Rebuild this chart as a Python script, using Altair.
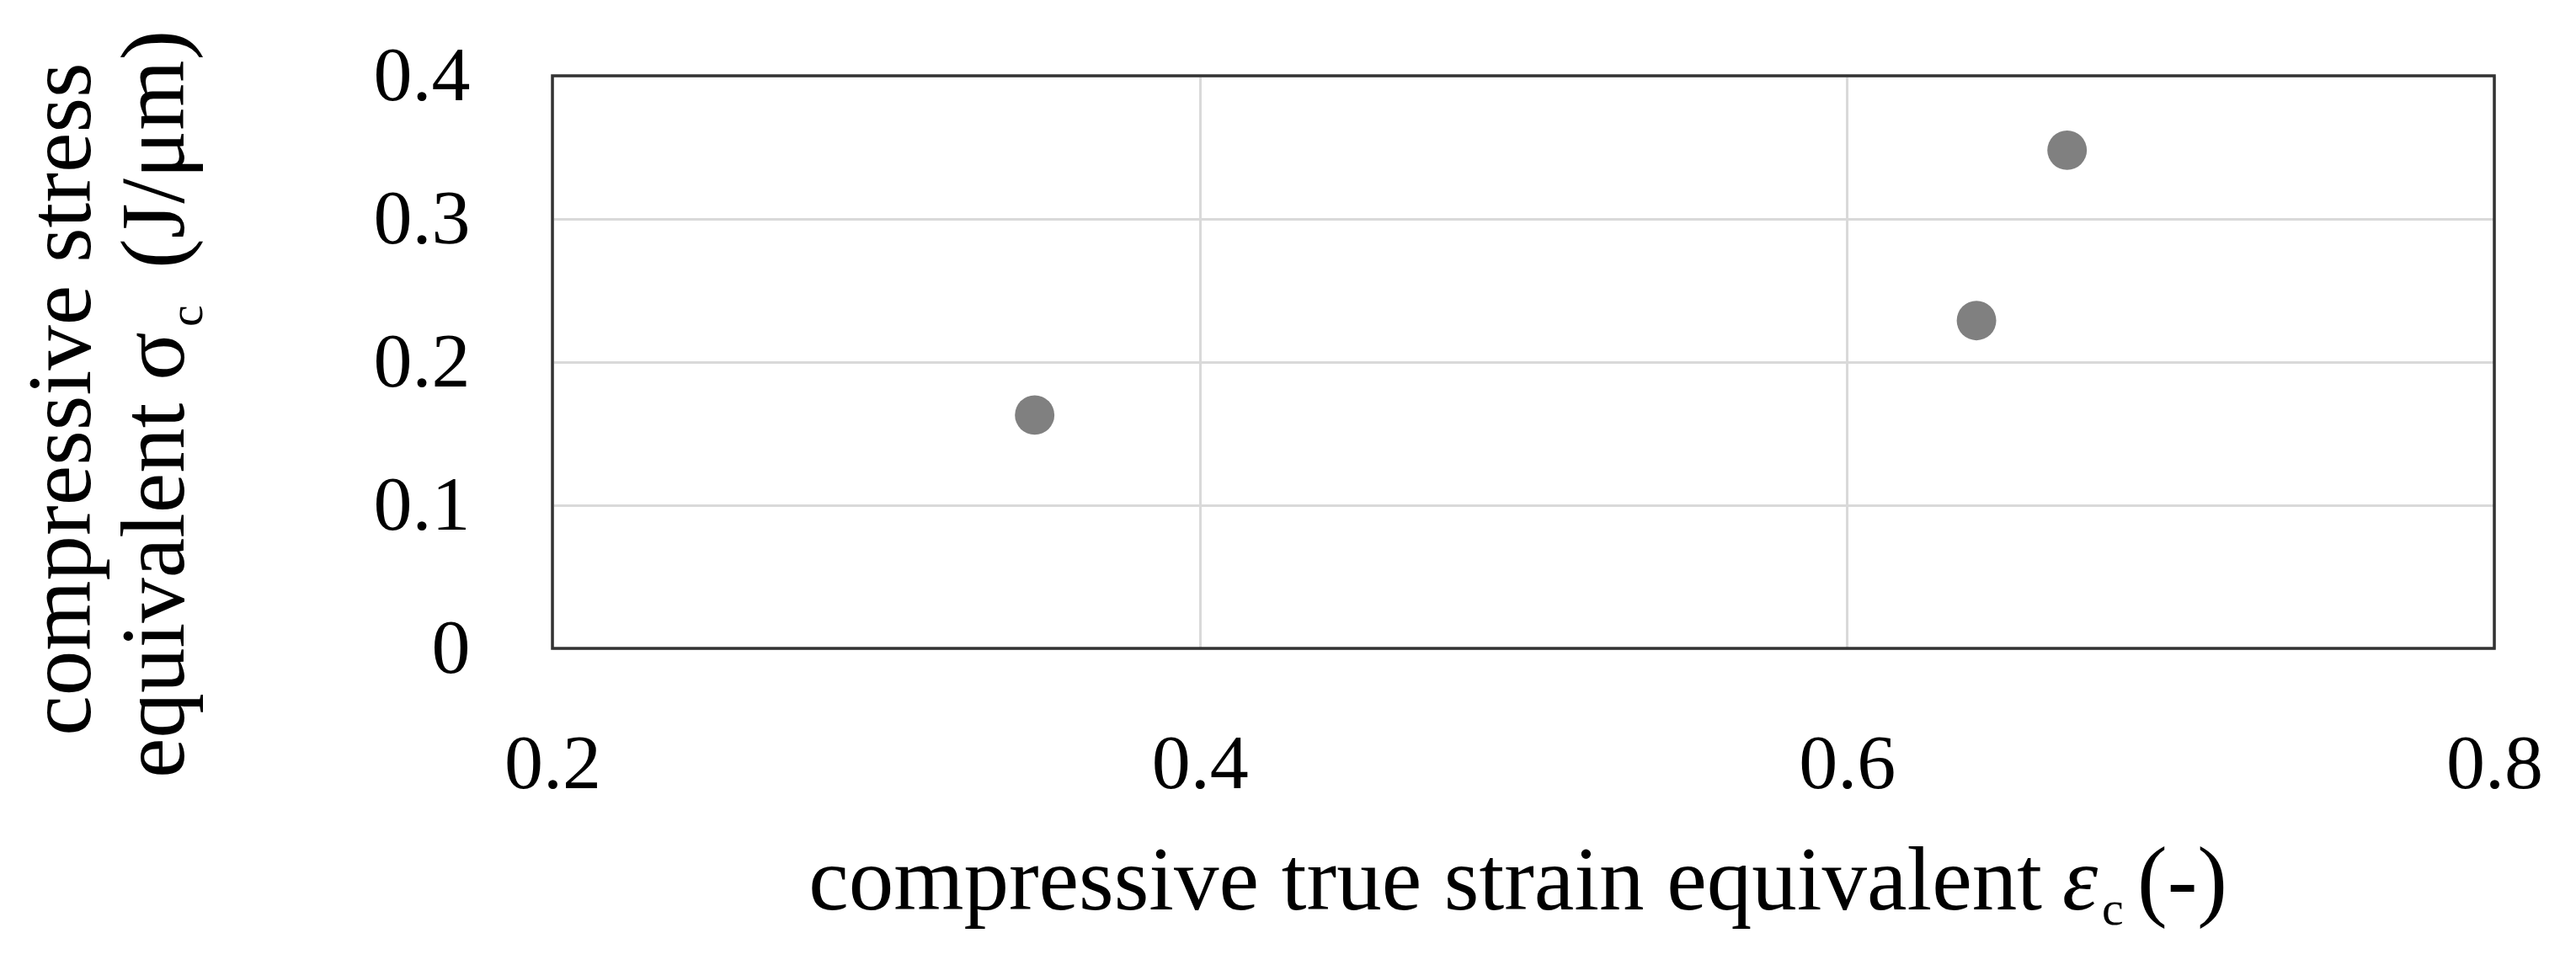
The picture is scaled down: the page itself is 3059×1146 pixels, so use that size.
import altair as alt
import pandas as pd

# data
strain = [0.349, 0.640, 0.668]
stress = [0.163, 0.229, 0.348]

x_ticks = [0.2, 0.4, 0.6, 0.8]
y_ticks = [0.0, 0.1, 0.2, 0.3, 0.4]

x_title_main = "compressive true strain equivalent"
x_title_symbol = "ε"
x_title_sub = "c"
x_title_unit = "(-)"
y_title_line1 = "compressive stress"
y_title_line2 = "equivalent σ"
y_title_sub = "c"
y_title_unit = "(J/μm)"

W, H = 2306, 680
FONT = "Liberation Serif"
LABEL_SIZE = 92
TITLE_SIZE = 107
SUB_SIZE = 58

df = pd.DataFrame({"strain": strain, "stress": stress})

x_enc = alt.X(
    "strain:Q",
    scale=alt.Scale(domain=[0.2, 0.8], nice=False, zero=False),
    axis=alt.Axis(
        values=x_ticks, format=".1~f", title=None, grid=True,
        gridColor="#d9d9d9", gridWidth=3, domain=False, ticks=False,
        labelFont=FONT, labelFontSize=LABEL_SIZE, labelColor="black",
        labelPadding=92, labelFlush=False, labelOverlap=False,
    ),
)
y_enc = alt.Y(
    "stress:Q",
    scale=alt.Scale(domain=[0, 0.4], nice=False, zero=False),
    axis=alt.Axis(
        values=y_ticks, format=".1~f", title=None, grid=True,
        gridColor="#d9d9d9", gridWidth=3, domain=False, ticks=False,
        labelFont=FONT, labelFontSize=LABEL_SIZE, labelColor="black",
        labelPadding=98, labelFlush=False, labelOverlap=False,
    ),
)

points = alt.Chart(df).mark_circle(size=2200, color="#808080", opacity=1).encode(
    x=x_enc, y=y_enc
)

border = alt.Chart(pd.DataFrame({"a": [0]})).mark_rect(
    fillOpacity=0, stroke="#333333", strokeWidth=3.5
).encode(x=alt.value(0), x2=alt.value(W), y=alt.value(0), y2=alt.value(H))


def txt(text, x, y, size=TITLE_SIZE, **kw):
    return alt.Chart(pd.DataFrame({"t": [text]})).mark_text(
        font=FONT, color="black", fontSize=size, baseline="alphabetic", **kw
    ).encode(text="t:N", x=alt.value(x), y=alt.value(y))


texts = [
    # x title
    txt(x_title_main, 1769, 990, align="right"),
    txt(x_title_symbol, 1793, 990, align="left", fontStyle="italic"),
    txt(x_title_sub, 1840, 1008, size=SUB_SIZE, align="left"),
    txt(x_title_unit, 1882, 990, align="left"),
    # y title (rotated)
    txt(y_title_line1, -549, 384, align="center", angle=270),
    txt(y_title_line2, -438, 304, align="right", angle=270),
    txt(y_title_sub, -416, 298, size=SUB_SIZE, align="left", angle=270),
    txt(y_title_unit, -438, 229, align="left", angle=270),
]

chart = alt.layer(points, border, *texts).properties(
    width=W,
    height=H,
    autosize=alt.AutoSizeParams(type="none"),
    padding={"left": 648, "top": 82, "right": 80, "bottom": 360},
    background="white",
).configure_view(strokeWidth=0)

chart.save("out.html", embed_options={"renderer": "svg", "actions": False})
